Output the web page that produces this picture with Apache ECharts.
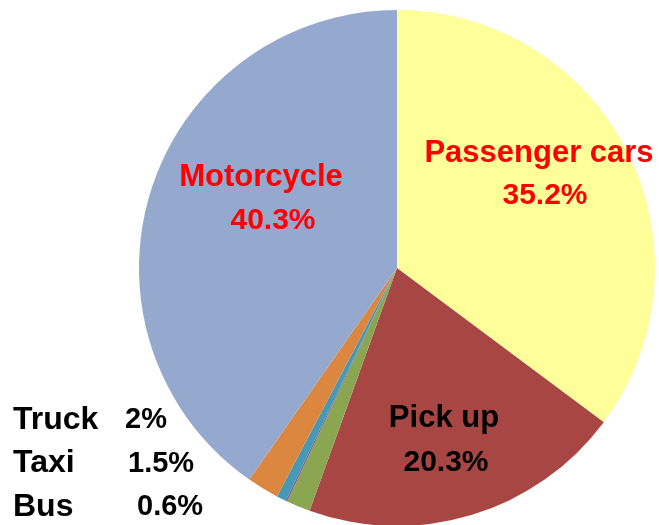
<!DOCTYPE html>
<html lang="en">
    <head>
        <title>Vehicle share</title>
        <meta charset="utf-8">
        <script src='https://cdn.jsdelivr.net/npm/echarts@6/dist/echarts.min.js'></script>
    </head>

    <style>
        html, body, #main {
            width: 100%;
            height: 100%;
            margin: 0;
            background: #fff;
        }
    </style>

    <body>
        <div id='main'></div>

        <script>
            // clockwise from 12 o'clock
            const names = ['Passenger cars', 'Pick up', 'Taxi', 'Other', 'Bus', 'Truck', 'Motorcycle'];
            const shares = [35.2, 20.3, 1.5, 0.1, 0.6, 2, 40.3];
            const colors = ['#FFFF99', '#A84644', '#8BA650', '#7C5E9F', '#4699B3', '#DC8740', '#95A9CF'];

            // small slices listed at the bottom left
            const noteNames = ['Truck', 'Taxi', 'Bus'];
            const noteValueX = [125, 128, 137];

            const font = '"Liberation Sans", Arial, sans-serif';

            const chart = echarts.init(document.getElementById('main'));

            const bigLabels = [
                { name: 'Passenger cars', x: [539, 545], y: [153, 196], color: '#FF0000' },
                { name: 'Motorcycle', x: [261, 273], y: [177, 221], color: '#FF0000' },
                { name: 'Pick up', x: [444, 446], y: [418, 463], color: '#000000' }
            ];

            function txt(x, y, s, color, align, size) {
                return {
                    type: 'text',
                    z: 100,
                    x: x,
                    y: y,
                    style: {
                        text: s,
                        fill: color,
                        font: 'bold ' + size + 'px ' + font,
                        align: align,
                        verticalAlign: 'middle'
                    }
                };
            }

            const graphics = [];
            bigLabels.forEach(function (l) {
                const v = shares[names.indexOf(l.name)];
                graphics.push(txt(l.x[0], l.y[0], l.name, l.color, 'center', 31));
                graphics.push(txt(l.x[1], l.y[1], v.toFixed(1) + '%', l.color, 'center', 30));
            });

            noteNames.forEach(function (n, i) {
                const v = shares[names.indexOf(n)];
                const y = 420 + i * 43.5;
                graphics.push(txt(13, y, n, '#000', 'left', 32));
                graphics.push(txt(noteValueX[i], y, v + '%', '#000', 'left', 29));
            });

            const option = {
                animation: false,
                graphic: graphics,
                series: [ {
                    type: 'pie',
                    center: [397, 268],
                    radius: [0, 258],
                    startAngle: 90,
                    clockwise: true,
                    label: { show: false },
                    labelLine: { show: false },
                    itemStyle: { borderWidth: 0 },
                    emphasis: { disabled: true },
                    data: names.map(function (n, i) {
                        return { name: n, value: shares[i], itemStyle: { color: colors[i] } };
                    })
                } ]
            };

            chart.setOption(option);

            window.onresize = function () {
                chart.resize();
            }
        </script>
    </body>
</html>
